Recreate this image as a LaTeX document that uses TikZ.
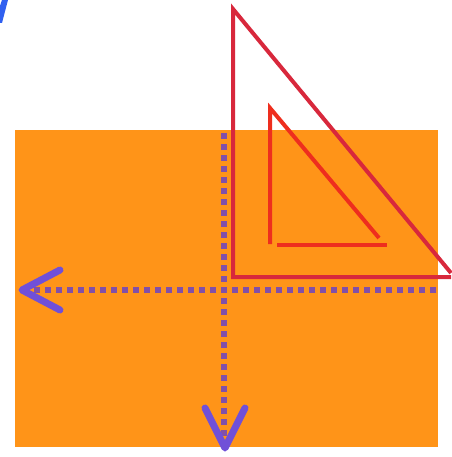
\documentclass[tikz,border=0pt]{standalone}
\usetikzlibrary{calc}
\definecolor{orangebg}{HTML}{FF9418}
\definecolor{outerred}{HTML}{D8283C}
\definecolor{innerred}{HTML}{EE2E1E}
\definecolor{dotpurple}{HTML}{8250A8}
\definecolor{arrowpurple}{HTML}{7050D8}
\definecolor{strokeblue}{HTML}{3060F0}
\tikzset{
  outerline/.style={draw=outerred, line width=4pt, line join=miter},
  innerline/.style={draw=innerred, line width=4pt},
  dotline/.style={draw=dotpurple, line width=6pt, dash pattern=on 6pt off 5pt},
  chevron/.style={draw=arrowpurple, line width=7pt, line cap=round, line join=round}
}
\begin{document}
\begin{tikzpicture}[x=1pt,y=-1pt]
\useasboundingbox (0,0) rectangle (451,457);
% background rectangle
\fill[orangebg] (15,130) rectangle (438,447);
% blue stroke top-left
\fill[strokeblue] (2,0) -- (8,0) -- (2,23) -- (0,23) -- (0,6) -- cycle;
% coordinates
\coordinate (ot) at (233,9);
\coordinate (obl) at (233,277);
\coordinate (obr) at (451,277);
\coordinate (ohe) at (451,273);
\coordinate (it) at (270,108);
\coordinate (ibl) at (270,244);
\coordinate (ib1) at (277,245);
\coordinate (ib2) at (387,245);
\coordinate (ihe) at (379,238);
% outer triangle
\draw[outerline] (ohe) -- (ot) -- (obl) -- (obr);
% inner triangle
\draw[innerline] (ibl) -- (it) -- (ihe);
\draw[innerline] (ib1) -- (ib2);
% dotted axes
\coordinate (vtop) at (224,133);
\coordinate (vbot) at (224,440);
\coordinate (hright) at (436,290);
\coordinate (hleft) at (28,290);
\draw[dotline] (vtop) -- (vbot);
\draw[dotline] (hright) -- (hleft);
% arrowheads
\coordinate (htip) at (22,290);
\coordinate (vtip) at (225,448);
\draw[chevron] ($(htip)+(38,-20)$) -- (htip) -- ($(htip)+(38,20)$);
\draw[chevron] ($(vtip)+(-20,-40)$) -- (vtip) -- ($(vtip)+(20,-40)$);
\end{tikzpicture}
\end{document}
